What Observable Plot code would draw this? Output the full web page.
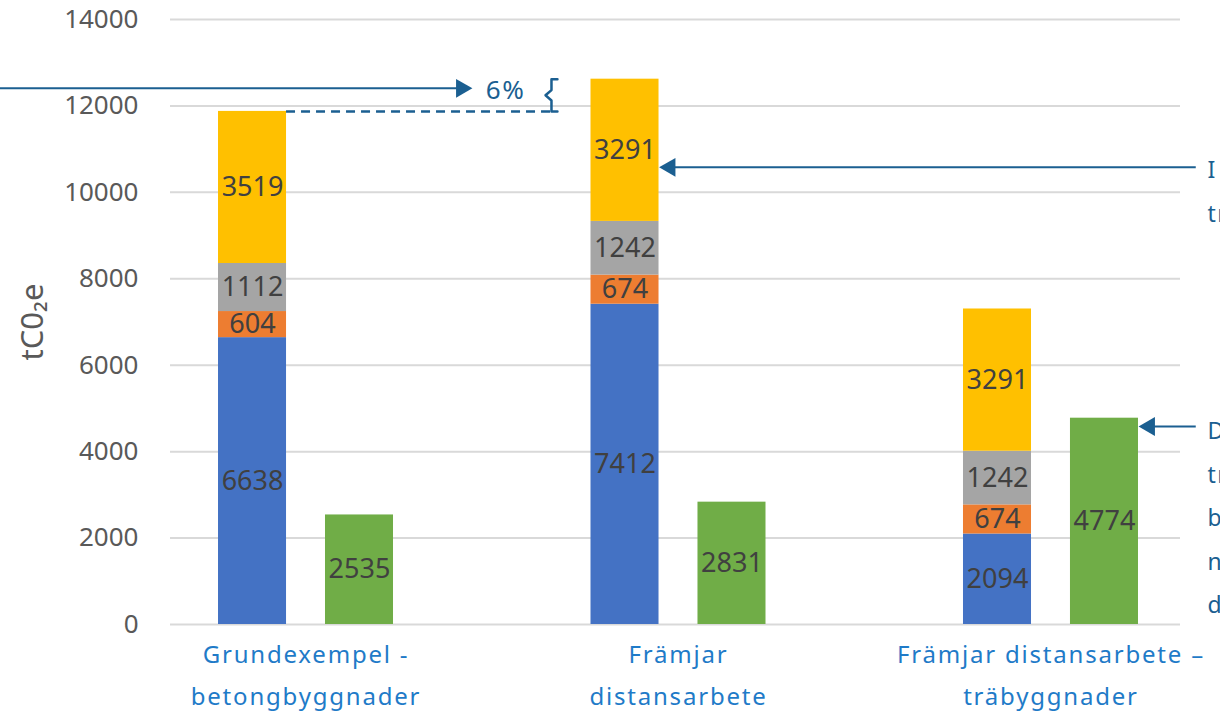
<!DOCTYPE html>
<html>
<head>
<meta charset="utf-8">
<script src="https://cdn.jsdelivr.net/npm/d3@7"></script>
<script src="https://cdn.jsdelivr.net/npm/@observablehq/plot@0.6"></script>
<style>
  html, body { margin: 0; padding: 0; background: #fff; overflow: hidden; }
</style>
</head>
<body>
<div id="chart"></div>
<script>
// ---- data ----
const groups = ["Grundexempel -\nbetongbyggnader", "Främjar\ndistansarbete", "Främjar distansarbete –\nträbyggnader"];
const blueVals = [6638, 7412, 2094];
const orangeVals = [604, 674, 674];
const grayVals = [1112, 1242, 1242];
const yellowVals = [3519, 3291, 3291];
const greenVals = [2535, 2831, 4774];
const yTicks = [0, 2000, 4000, 6000, 8000, 10000, 12000, 14000];
const colors = {blue: "#4472C4", orange: "#ED7D31", gray: "#A5A5A5", yellow: "#FFC000", green: "#70AD47"};

// layout within a group (in category units)
const pairOffset = 0.1436;
const halfW = 0.0913;

// build stacked segments
const segments = [];
groups.forEach((g, i) => {
  let acc = 0;
  [["blue", blueVals], ["orange", orangeVals], ["gray", grayVals], ["yellow", yellowVals]].forEach(([k, arr]) => {
    const v = arr[i];
    segments.push({gi: i, xc: i - pairOffset, y1: acc, y2: acc + v, value: v, fill: colors[k]});
    acc += v;
  });
  segments.push({gi: i, xc: i + pairOffset, y1: 0, y2: greenVals[i], value: greenVals[i], fill: colors.green});
});
const totals = groups.map((g, i) => blueVals[i] + orangeVals[i] + grayVals[i] + yellowVals[i]);

// annotations
const annoColor = "#1b5f91";
const labelColor = "#1f7bc8";
const arrowY1 = 12407, pctY = 12361;
const arrowY2 = 10579, arrowY3 = 4583;
const bracketX = 0.659;
const bracketMid = (totals[0] + totals[1]) / 2;
const bracket = [
  {x: bracketX + 0.016, y: totals[1]}, {x: bracketX, y: totals[1]}, {x: bracketX, y: bracketMid + 120},
  {x: bracketX - 0.016, y: bracketMid}, {x: bracketX, y: bracketMid - 120}, {x: bracketX, y: totals[0]},
  {x: bracketX + 0.016, y: totals[0]}
];
const rightNotes = [
  {y: 10509, t: "I"}, {y: 9491, t: "tr"},
  {y: 4468, t: "D"}, {y: 3449, t: "tr"}, {y: 2454, t: "b"}, {y: 1435, t: "n"}, {y: 440, t: "d"}
];
const stackRight = i => i - pairOffset + halfW;
const greenRight = i => i + pairOffset + halfW;
const tipOff = 0.0295;

const chart = Plot.plot({
  width: 1220,
  height: 711,
  marginLeft: 170,
  marginRight: 40,
  marginTop: 19,
  marginBottom: 87,
  style: {fontFamily: "'Noto Sans', sans-serif", fontSize: "26px", color: "#595959", background: "#fff"},
  x: {domain: [-0.3638, 2.3477], axis: null},
  y: {domain: [0, 14000], ticks: yTicks, tickSize: 0, tickPadding: 32, label: null, tickFormat: d3.format("d")},
  color: {type: "identity"},
  marks: [
    Plot.ruleY(yTicks, {stroke: "#d9d9d9", strokeWidth: 2}),
    Plot.rectY(segments, {x1: d => d.xc - halfW, x2: d => d.xc + halfW, y1: "y1", y2: "y2", fill: "fill"}),
    Plot.text(segments, {x: "xc", y: d => (d.y1 + d.y2) / 2, text: d => String(d.value), fill: "#404040", fontSize: 27}),
    // x category labels
    Plot.text(groups, {x: (d, i) => i, y: () => 0, text: d => d, dy: 9, lineAnchor: "top", lineHeight: 1.75,
      fill: labelColor, fontSize: 24}),
    // y axis title
    Plot.text(["tC0₂e"], {frameAnchor: "left", dx: -137, rotate: -90, textAnchor: "middle", fontSize: 31, fill: "#595959"}),
    // 6% annotation
    Plot.ruleY([arrowY1], {x1: -0.85, x2: 0.41, stroke: annoColor, strokeWidth: 2}),
    Plot.dot([arrowY1], {x: 0.4175, y: d => d, symbol: "triangle", rotate: 90, r: 7, fill: annoColor, stroke: "none"}),
    Plot.text(["6%"], {x: 0.5356, y: () => pctY, text: d => d, fill: annoColor, fontSize: 26}),
    Plot.ruleY([totals[0]], {x1: stackRight(0), x2: bracketX, stroke: annoColor, strokeWidth: 2.5, strokeDasharray: "9,6"}),
    Plot.line(bracket, {x: "x", y: "y", stroke: annoColor, strokeWidth: 2.5, curve: "linear"}),
    // right arrows
    Plot.ruleY([arrowY2], {x1: stackRight(1) + 0.02, x2: 2.39, stroke: annoColor, strokeWidth: 2}),
    Plot.dot([arrowY2], {x: stackRight(1) + tipOff, y: d => d, symbol: "triangle", rotate: -90, r: 7, fill: annoColor, stroke: "none"}),
    Plot.ruleY([arrowY3], {x1: greenRight(2) + 0.02, x2: 2.39, stroke: annoColor, strokeWidth: 2}),
    Plot.dot([arrowY3], {x: greenRight(2) + tipOff, y: d => d, symbol: "triangle", rotate: -90, r: 7, fill: annoColor, stroke: "none"}),
    Plot.text(rightNotes, {x: () => 2.42, y: "y", text: "t", textAnchor: "start", fill: annoColor, fontSize: 23})
  ]
});
// letter spacing for the geometric-looking blue texts
d3.select(chart).selectAll("g").each(function() {
  const f = (this.getAttribute("fill") || "").toLowerCase();
  if (f === labelColor) d3.select(this).selectAll("text").style("letter-spacing", "1.8px");
  else if (f === annoColor) d3.select(this).selectAll("text").style("letter-spacing", "1.5px");
});
document.getElementById("chart").appendChild(chart);
</script>
</body>
</html>
